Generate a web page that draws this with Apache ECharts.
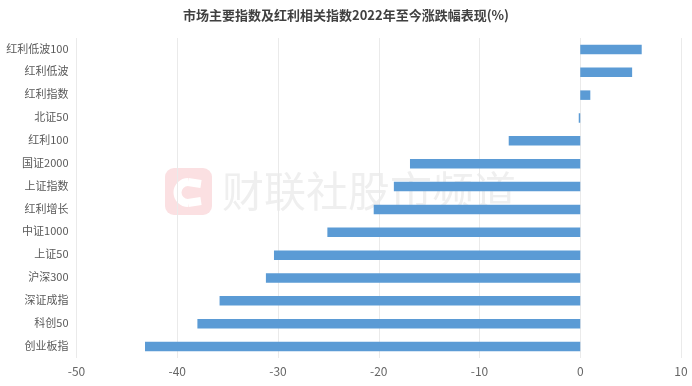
<!DOCTYPE html>
<html><head><meta charset="utf-8">
<style>html,body{margin:0;padding:0;background:#fff}#c{width:692px;height:386px}</style>
<script src="https://cdn.jsdelivr.net/npm/echarts@6/dist/echarts.min.js"></script>
</head><body><div id="c"></div>
<script>
const titleText = '市场主要指数及红利相关指数2022年至今涨跌幅表现(%)';
const categories = ['红利低波100','红利低波','红利指数','北证50','红利100','国证2000','上证指数','红利增长','中证1000','上证50','沪深300','深证成指','科创50','创业板指'];
const values = [6.1,5.15,1.0,-0.15,-7.1,-16.9,-18.5,-20.5,-25.1,-30.4,-31.2,-35.8,-38.0,-43.2];
const font = '"Noto Sans CJK SC","Noto Sans",sans-serif';
const chart = echarts.init(document.getElementById('c'), null, {renderer:'canvas'});
chart.setOption({
  animation:false,
  backgroundColor:'#fff',
  title:{text:titleText,left:'center',top:4,textStyle:{fontFamily:font,fontSize:13,fontWeight:'bold',color:'#404040'}},
  grid:{left:76.5,right:11,top:38,bottom:28,containLabel:false},
  graphic:[
    {type:'rect',z:-1,silent:true,shape:{x:165,y:168,width:47,height:47,r:9},style:{fill:'#fbe0e2'}},
    {type:'arc',z:-1,silent:true,shape:{cx:188,cy:192.5,r:10.5,startAngle:Math.PI/2,endAngle:Math.PI*1.5,clockwise:true},style:{stroke:'#fff',fill:null,lineWidth:8}},
    {type:'line',z:-1,silent:true,shape:{x1:188,y1:182,x2:201,y2:184},style:{stroke:'#fff',lineWidth:8}},
    {type:'line',z:-1,silent:true,shape:{x1:188,y1:203,x2:201,y2:201},style:{stroke:'#fff',lineWidth:8}},
    {type:'text',z:-1,silent:true,style:{x:222,y:191,text:'财联社股市频道',fill:'#efefef',font:'42px '+font,textVerticalAlign:'middle'}}
  ],
  xAxis:{type:'value',min:-50,max:10,interval:10,
    axisLine:{show:false},axisTick:{show:false},
    axisLabel:{color:'#666',fontSize:12,fontFamily:font,margin:7},
    splitLine:{show:true,lineStyle:{color:'#eaeaea',width:1}}},
  yAxis:{type:'category',inverse:true,data:categories,
    axisLine:{show:false},axisTick:{show:false},
    axisLabel:{color:'#595959',fontSize:11,fontFamily:font,margin:8,verticalAlign:'bottom',lineHeight:2}},
  series:[{type:'bar',data:values,barWidth:9.5,itemStyle:{color:'#5b9bd5'}}]
});
</script></body></html>
